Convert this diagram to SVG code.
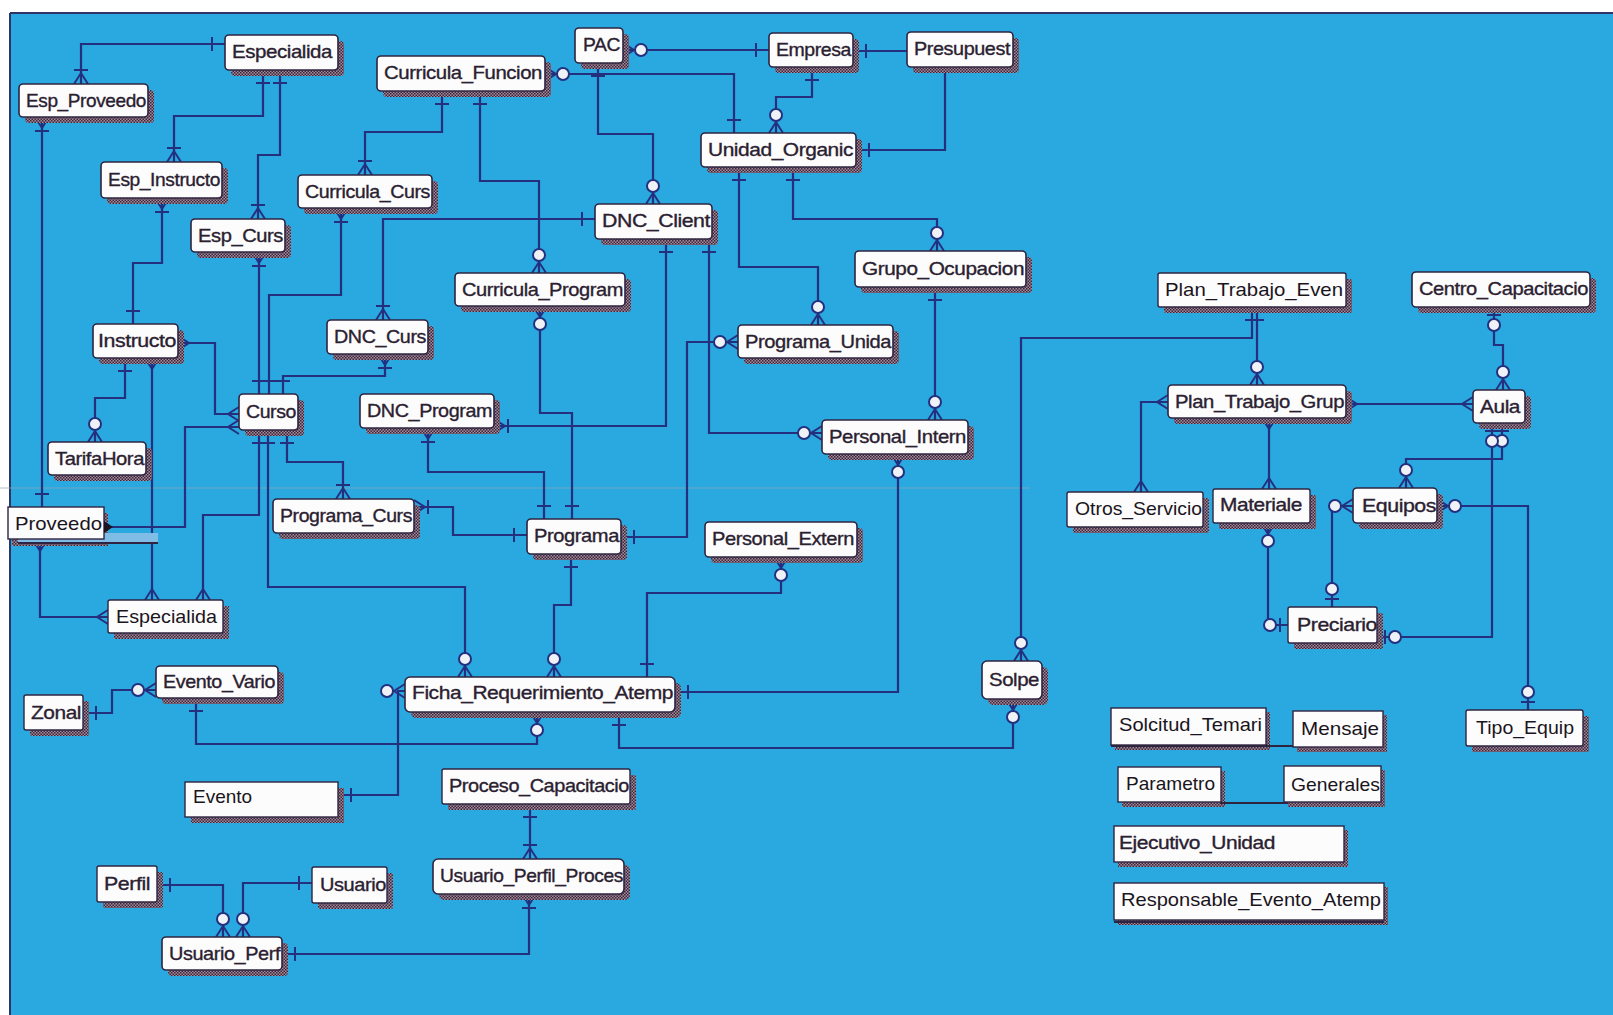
<svg xmlns="http://www.w3.org/2000/svg" width="1613" height="1015" viewBox="0 0 1613 1015">
  <style>
    .sh{fill:url(#hatch)}
    .bx{fill:#fcfcfc;stroke:#2f2440;stroke-width:1.6}
    .sq{fill:#fcfcfc;stroke:#2f2440;stroke-width:1.4}
    text{font-family:"Liberation Sans",Arial,sans-serif;font-size:19px;fill:#2a2030;stroke:#2a2030;stroke-width:0.35px;letter-spacing:-0.4px}
    text.clean{fill:#1a1420;stroke:none;letter-spacing:0}
    .cn{fill:none;stroke:#24307e;stroke-width:2.2}
    .mk{fill:none;stroke:#24307e;stroke-width:2}
    .mc{fill:#eef2f6;stroke:#24307e;stroke-width:2}
    .deco{fill:none;stroke:#2f2440;stroke-width:2}
  </style>
  <defs>
    <pattern id="hatch" width="3" height="3" patternUnits="userSpaceOnUse">
      <rect width="3" height="3" fill="#a08c9c"/>
      <rect width="1.5" height="1.5" fill="#3d2438"/>
      <rect x="1.5" y="1.5" width="1.5" height="1.5" fill="#3d2438"/>
    </pattern>
    <!-- relationship ends: +x points into the entity, origin sits on its border -->
    <marker id="one" viewBox="-30 -15 32 30" markerWidth="32" markerHeight="30" refX="0" refY="0" markerUnits="userSpaceOnUse" orient="auto-start-reverse">
      <path class="mk" d="M-13,-7V7"/>
    </marker>
    <marker id="many" viewBox="-30 -15 32 30" markerWidth="32" markerHeight="30" refX="0" refY="0" markerUnits="userSpaceOnUse" orient="auto-start-reverse">
      <path class="mk" d="M0,-7L-11,0L0,7"/>
    </marker>
    <marker id="omany" viewBox="-30 -15 32 30" markerWidth="32" markerHeight="30" refX="0" refY="0" markerUnits="userSpaceOnUse" orient="auto-start-reverse">
      <path class="mk" d="M0,-7L-11,0L0,7M-14,-7V7"/>
    </marker>
    <marker id="zmany" viewBox="-30 -15 32 30" markerWidth="32" markerHeight="30" refX="0" refY="0" markerUnits="userSpaceOnUse" orient="auto-start-reverse">
      <path class="mk" d="M0,-7L-11,0L0,7"/>
      <circle class="mc" cx="-18" cy="0" r="6"/>
    </marker>
    <marker id="zone" viewBox="-30 -15 32 30" markerWidth="32" markerHeight="30" refX="0" refY="0" markerUnits="userSpaceOnUse" orient="auto-start-reverse">
      <path class="mk" d="M-8,-7V7"/>
      <circle class="mc" cx="-18" cy="0" r="6"/>
    </marker>
  </defs>

  <!-- sheet -->
  <rect x="0" y="0" width="1613" height="1015" fill="#ffffff"/>
  <rect x="10" y="13" width="1603" height="1002" fill="#2aa8e0"/>
  <path d="M10,13H1613M10,13V1015" stroke="#2c3566" stroke-width="2" fill="none"/>
  <path d="M0,488H1030" stroke="#8fa6b6" stroke-width="1" opacity="0.7"/>

  <!-- relationships -->
  <g id="connectors">
    <path class="cn" d="M225,44H81V84" marker-start="url(#one)" marker-end="url(#omany)"/>
    <path class="cn" d="M263,70V116H174V162" marker-start="url(#one)" marker-end="url(#omany)"/>
    <path class="cn" d="M280,70V155H258V219" marker-start="url(#one)" marker-end="url(#omany)"/>
    <path class="cn" d="M42,117V507" marker-start="url(#omany)" marker-end="url(#one)"/>
    <path class="cn" d="M162,198V263H133V324" marker-start="url(#omany)" marker-end="url(#one)"/>
    <path class="cn" d="M259,252V394" marker-start="url(#omany)" marker-end="url(#one)"/>
    <path class="cn" d="M341,208V295H269V394" marker-start="url(#omany)" marker-end="url(#one)"/>
    <path class="cn" d="M385,354V376H283V394" marker-start="url(#omany)" marker-end="url(#one)"/>
    <path class="cn" d="M442,91V132H365V175" marker-start="url(#one)" marker-end="url(#omany)"/>
    <path class="cn" d="M480,91V181H539V273" marker-start="url(#one)" marker-end="url(#zmany)"/>
    <path class="cn" d="M545,74H734V133" marker-start="url(#zmany)" marker-end="url(#one)"/>
    <path class="cn" d="M623,50H769" marker-start="url(#zmany)" marker-end="url(#one)"/>
    <path class="cn" d="M598,63V134H653V204" marker-start="url(#one)" marker-end="url(#zmany)"/>
    <path class="cn" d="M812,67V97H776V133" marker-start="url(#one)" marker-end="url(#zmany)"/>
    <path class="cn" d="M907,51H853" marker-end="url(#one)"/>
    <path class="cn" d="M945,67V150H856" marker-end="url(#one)"/>
    <path class="cn" d="M739,167V267H818V325" marker-start="url(#one)" marker-end="url(#zmany)"/>
    <path class="cn" d="M793,167V219H937V251" marker-start="url(#one)" marker-end="url(#zmany)"/>
    <path class="cn" d="M595,219H383V320" marker-start="url(#one)" marker-end="url(#omany)"/>
    <path class="cn" d="M666,239V426H494" marker-start="url(#one)" marker-end="url(#omany)"/>
    <path class="cn" d="M709,239V433H822" marker-start="url(#one)" marker-end="url(#zmany)"/>
    <path class="cn" d="M935,287V420" marker-start="url(#one)" marker-end="url(#zmany)"/>
    <path class="cn" d="M738,342H687V537H621" marker-start="url(#zmany)" marker-end="url(#one)"/>
    <path class="cn" d="M540,306V413H572V519" marker-start="url(#zmany)" marker-end="url(#one)"/>
    <path class="cn" d="M428,428V472H544V519" marker-start="url(#omany)" marker-end="url(#one)"/>
    <path class="cn" d="M414,507H453V535H527" marker-start="url(#omany)" marker-end="url(#one)"/>
    <path class="cn" d="M287,430V462H343V499" marker-start="url(#one)" marker-end="url(#omany)"/>
    <path class="cn" d="M268,430V587H465V677" marker-start="url(#one)" marker-end="url(#zmany)"/>
    <path class="cn" d="M178,343H215V414H239" marker-start="url(#many)" marker-end="url(#many)"/>
    <path class="cn" d="M239,427H185V527H104" marker-start="url(#many)"/>
    <path class="cn" d="M152,358V600" marker-start="url(#many)" marker-end="url(#many)"/>
    <path class="cn" d="M259,430V515H203V600" marker-start="url(#one)" marker-end="url(#many)"/>
    <path class="cn" d="M405,691H398V795H338" marker-start="url(#zmany)" marker-end="url(#one)"/>
    <path class="cn" d="M196,698V744H537V712" marker-start="url(#one)" marker-end="url(#zmany)"/>
    <path class="cn" d="M83,713H112V690H156" marker-start="url(#one)" marker-end="url(#zmany)"/>
    <path class="cn" d="M675,692H898V454" marker-start="url(#one)" marker-end="url(#zmany)"/>
    <path class="cn" d="M619,712V748H1013V699" marker-start="url(#one)" marker-end="url(#zmany)"/>
    <path class="cn" d="M781,557V593H647V677" marker-start="url(#zmany)" marker-end="url(#one)"/>
    <path class="cn" d="M571,554V605H554V677" marker-start="url(#one)" marker-end="url(#zmany)"/>
    <path class="cn" d="M1021,661V338H1252V307" marker-start="url(#zmany)" marker-end="url(#one)"/>
    <path class="cn" d="M1257,307V385" marker-start="url(#one)" marker-end="url(#zmany)"/>
    <path class="cn" d="M1168,402H1141V492" marker-start="url(#many)" marker-end="url(#many)"/>
    <path class="cn" d="M1346,404H1473" marker-start="url(#many)" marker-end="url(#many)"/>
    <path class="cn" d="M1269,418V489" marker-start="url(#many)" marker-end="url(#many)"/>
    <path class="cn" d="M1494,307V345H1503V390" marker-start="url(#zone)" marker-end="url(#zmany)"/>
    <path class="cn" d="M1502,423V459H1406V488" marker-start="url(#zone)" marker-end="url(#zmany)"/>
    <path class="cn" d="M1492,423V637H1377" marker-start="url(#zone)" marker-end="url(#zone)"/>
    <path class="cn" d="M1353,506H1332V607" marker-start="url(#zmany)" marker-end="url(#zone)"/>
    <path class="cn" d="M1268,523V625H1288" marker-start="url(#zmany)" marker-end="url(#zone)"/>
    <path class="cn" d="M1437,506H1528V710" marker-start="url(#zmany)" marker-end="url(#zone)"/>
    <path class="cn" d="M157,885H223V937" marker-start="url(#one)" marker-end="url(#zmany)"/>
    <path class="cn" d="M312,883H243V937" marker-start="url(#one)" marker-end="url(#zmany)"/>
    <path class="cn" d="M282,954H529V894" marker-start="url(#one)" marker-end="url(#omany)"/>
    <path class="cn" d="M530,804V859" marker-start="url(#one)" marker-end="url(#omany)"/>
    <path class="cn" d="M125,358V398H95V442" marker-start="url(#one)" marker-end="url(#zmany)"/>
    <path class="cn" d="M40,540V617H108" marker-start="url(#many)" marker-end="url(#many)"/>
  </g>

  <!-- entities -->
  <g id="especialida-top"><rect class="sh" x="231" y="41" width="113" height="35" rx="4"/><rect class="bx" x="225" y="35" width="113" height="35" rx="4"/><text x="232" y="58" textLength="100" lengthAdjust="spacingAndGlyphs">Especialida</text></g>
  <g id="esp-proveed"><rect class="sh" x="25" y="90" width="129" height="33" rx="4"/><rect class="bx" x="19" y="84" width="129" height="33" rx="4"/><text x="26" y="107" textLength="120" lengthAdjust="spacingAndGlyphs">Esp_Proveedo</text></g>
  <g id="esp-instructo"><rect class="sh" x="107" y="168" width="121" height="36" rx="4"/><rect class="bx" x="101" y="162" width="121" height="36" rx="4"/><text x="108" y="186" textLength="112" lengthAdjust="spacingAndGlyphs">Esp_Instructo</text></g>
  <g id="esp-curs"><rect class="sh" x="197" y="225" width="94" height="33" rx="4"/><rect class="bx" x="191" y="219" width="94" height="33" rx="4"/><text x="198" y="242" textLength="85" lengthAdjust="spacingAndGlyphs">Esp_Curs</text></g>
  <g id="curricula-curs"><rect class="sh" x="304" y="181" width="134" height="33" rx="4"/><rect class="bx" x="298" y="175" width="134" height="33" rx="4"/><text x="305" y="198" textLength="125" lengthAdjust="spacingAndGlyphs">Curricula_Curs</text></g>
  <g id="curricula-funcion"><rect class="sh" x="383" y="62" width="168" height="35" rx="4"/><rect class="bx" x="377" y="56" width="168" height="35" rx="4"/><text x="384" y="79" textLength="158" lengthAdjust="spacingAndGlyphs">Curricula_Funcion</text></g>
  <g id="pac"><rect class="sh" x="581" y="34" width="48" height="35" rx="4"/><rect class="bx" x="575" y="28" width="48" height="35" rx="4"/><text x="583" y="51" textLength="37" lengthAdjust="spacingAndGlyphs">PAC</text></g>
  <g id="empresa"><rect class="sh" x="775" y="39" width="84" height="34" rx="4"/><rect class="bx" x="769" y="33" width="84" height="34" rx="4"/><text x="776" y="56" textLength="75" lengthAdjust="spacingAndGlyphs">Empresa</text></g>
  <g id="presupuest"><rect class="sh" x="913" y="38" width="106" height="35" rx="4"/><rect class="bx" x="907" y="32" width="106" height="35" rx="4"/><text x="914" y="55" textLength="96" lengthAdjust="spacingAndGlyphs">Presupuest</text></g>
  <g id="unidad-organic"><rect class="sh" x="707" y="139" width="155" height="34" rx="4"/><rect class="bx" x="701" y="133" width="155" height="34" rx="4"/><text x="708" y="156" textLength="145" lengthAdjust="spacingAndGlyphs">Unidad_Organic</text></g>
  <g id="dnc-client"><rect class="sh" x="601" y="210" width="117" height="35" rx="4"/><rect class="bx" x="595" y="204" width="117" height="35" rx="4"/><text x="602" y="227" textLength="108" lengthAdjust="spacingAndGlyphs">DNC_Client</text></g>
  <g id="curricula-program"><rect class="sh" x="461" y="279" width="170" height="33" rx="4"/><rect class="bx" x="455" y="273" width="170" height="33" rx="4"/><text x="462" y="296" textLength="161" lengthAdjust="spacingAndGlyphs">Curricula_Program</text></g>
  <g id="grupo-ocupacion"><rect class="sh" x="861" y="257" width="171" height="36" rx="4"/><rect class="bx" x="855" y="251" width="171" height="36" rx="4"/><text x="862" y="275" textLength="162" lengthAdjust="spacingAndGlyphs">Grupo_Ocupacion</text></g>
  <g id="programa-unida"><rect class="sh" x="744" y="331" width="155" height="33" rx="4"/><rect class="bx" x="738" y="325" width="155" height="33" rx="4"/><text x="745" y="348" textLength="146" lengthAdjust="spacingAndGlyphs">Programa_Unida</text></g>
  <g id="personal-intern"><rect class="sh" x="828" y="426" width="146" height="34" rx="4"/><rect class="bx" x="822" y="420" width="146" height="34" rx="4"/><text x="829" y="443" textLength="137" lengthAdjust="spacingAndGlyphs">Personal_Intern</text></g>
  <g id="dnc-curs"><rect class="sh" x="333" y="326" width="101" height="34" rx="4"/><rect class="bx" x="327" y="320" width="101" height="34" rx="4"/><text x="334" y="343" textLength="92" lengthAdjust="spacingAndGlyphs">DNC_Curs</text></g>
  <g id="dnc-program"><rect class="sh" x="366" y="400" width="134" height="34" rx="4"/><rect class="bx" x="360" y="394" width="134" height="34" rx="4"/><text x="367" y="417" textLength="125" lengthAdjust="spacingAndGlyphs">DNC_Program</text></g>
  <g id="curso"><rect class="sh" x="245" y="400" width="59" height="36" rx="4"/><rect class="bx" x="239" y="394" width="59" height="36" rx="4"/><text x="246" y="418" textLength="50" lengthAdjust="spacingAndGlyphs">Curso</text></g>
  <g id="instructo"><rect class="sh" x="99" y="330" width="85" height="34" rx="4"/><rect class="bx" x="93" y="324" width="85" height="34" rx="4"/><text x="98" y="347" textLength="78" lengthAdjust="spacingAndGlyphs">Instructo</text></g>
  <g id="tarifahora"><rect class="sh" x="54" y="448" width="98" height="33" rx="4"/><rect class="bx" x="48" y="442" width="98" height="33" rx="4"/><text x="55" y="465" textLength="89" lengthAdjust="spacingAndGlyphs">TarifaHora</text></g>
  <g id="proveedo"><rect class="sh" x="12" y="513" width="96" height="33"/><rect x="18" y="533" width="140" height="10" fill="#7fbce6"/><rect class="sq" x="8" y="507" width="96" height="32" stroke-width="0.8"/><path d="M18,543H158" class="deco"/><polygon points="104,521 113,527 104,533" fill="#1a1420"/><text class="clean" x="15" y="530" textLength="87" lengthAdjust="spacingAndGlyphs">Proveedo</text></g>
  <g id="especialida-bot"><rect class="sh" x="114" y="606" width="115" height="33"/><rect class="sq" x="108" y="600" width="115" height="33" rx="2"/><text class="clean" x="116" y="623" textLength="101" lengthAdjust="spacingAndGlyphs">Especialida</text></g>
  <g id="programa-curs"><rect class="sh" x="279" y="505" width="141" height="34" rx="4"/><rect class="bx" x="273" y="499" width="141" height="34" rx="4"/><text x="280" y="522" textLength="132" lengthAdjust="spacingAndGlyphs">Programa_Curs</text></g>
  <g id="programa"><rect class="sh" x="533" y="525" width="94" height="35" rx="4"/><rect class="bx" x="527" y="519" width="94" height="35" rx="4"/><text x="534" y="542" textLength="85" lengthAdjust="spacingAndGlyphs">Programa</text></g>
  <g id="personal-extern"><rect class="sh" x="711" y="528" width="152" height="35" rx="4"/><rect class="bx" x="705" y="522" width="152" height="35" rx="4"/><text x="712" y="545" textLength="142" lengthAdjust="spacingAndGlyphs">Personal_Extern</text></g>
  <g id="plan-trabajo-even"><rect class="sh" x="1164" y="279" width="188" height="34" rx="2"/><rect class="sq" x="1158" y="273" width="188" height="34" rx="2"/><text class="clean" x="1165" y="296" textLength="178" lengthAdjust="spacingAndGlyphs">Plan_Trabajo_Even</text></g>
  <g id="centro-capacitacio"><rect class="sh" x="1418" y="278" width="178" height="35" rx="4"/><rect class="bx" x="1412" y="272" width="178" height="35" rx="4"/><text x="1419" y="295" textLength="169" lengthAdjust="spacingAndGlyphs">Centro_Capacitacio</text></g>
  <g id="plan-trabajo-grup"><rect class="sh" x="1174" y="391" width="178" height="33" rx="4"/><rect class="bx" x="1168" y="385" width="178" height="33" rx="4"/><text x="1175" y="408" textLength="169" lengthAdjust="spacingAndGlyphs">Plan_Trabajo_Grup</text></g>
  <g id="aula"><rect class="sh" x="1479" y="396" width="52" height="33" rx="4"/><rect class="bx" x="1473" y="390" width="52" height="33" rx="4"/><text x="1480" y="413" textLength="40" lengthAdjust="spacingAndGlyphs">Aula</text></g>
  <g id="otros-servicio"><rect class="sh" x="1073" y="498" width="136" height="35" rx="2"/><rect class="sq" x="1067" y="492" width="136" height="35" rx="2"/><text class="clean" x="1075" y="515" textLength="127" lengthAdjust="spacingAndGlyphs">Otros_Servicio</text></g>
  <g id="materiale"><rect class="sh" x="1219" y="495" width="97" height="34" rx="2"/><rect class="sq" x="1213" y="489" width="97" height="34" rx="2"/><text x="1220" y="511" textLength="82" lengthAdjust="spacingAndGlyphs">Materiale</text></g>
  <g id="equipos"><rect class="sh" x="1359" y="494" width="84" height="35" rx="4"/><rect class="bx" x="1353" y="488" width="84" height="35" rx="4"/><text x="1362" y="512" textLength="74" lengthAdjust="spacingAndGlyphs">Equipos</text></g>
  <g id="preciario"><rect class="sh" x="1294" y="613" width="89" height="36" rx="2"/><rect class="sq" x="1288" y="607" width="89" height="36" rx="2"/><text x="1297" y="631" textLength="80" lengthAdjust="spacingAndGlyphs">Preciario</text></g>
  <g id="tipo-equip"><rect class="sh" x="1472" y="716" width="117" height="36" rx="2"/><rect class="sq" x="1466" y="710" width="117" height="36" rx="2"/><text class="clean" x="1476" y="734" textLength="98" lengthAdjust="spacingAndGlyphs">Tipo_Equip</text></g>
  <g id="solpe"><rect class="sh" x="988" y="667" width="60" height="38" rx="5"/><rect class="bx" x="982" y="661" width="60" height="38" rx="5"/><text x="989" y="686" textLength="50" lengthAdjust="spacingAndGlyphs">Solpe</text></g>
  <g id="solcitud-temari"><rect class="sh" x="1115" y="712" width="155" height="38"/><rect class="sq" x="1111" y="708" width="155" height="37"/><path class="deco" d="M1111,746H1384"/><text class="clean" x="1119" y="731" textLength="143" lengthAdjust="spacingAndGlyphs">Solcitud_Temari</text></g>
  <g id="mensaje"><rect class="sh" x="1297" y="715" width="90" height="37"/><rect class="sq" x="1293" y="711" width="90" height="36"/><text class="clean" x="1301" y="735" textLength="78" lengthAdjust="spacingAndGlyphs">Mensaje</text></g>
  <g id="parametro"><rect class="sh" x="1122" y="771" width="103" height="36"/><rect class="sq" x="1118" y="767" width="103" height="35"/><path class="deco" d="M1220,803H1382"/><text class="clean" x="1126" y="790" textLength="89" lengthAdjust="spacingAndGlyphs">Parametro</text></g>
  <g id="generales"><rect class="sh" x="1288" y="770" width="97" height="37"/><rect class="sq" x="1284" y="766" width="97" height="36"/><text class="clean" x="1291" y="791" textLength="89" lengthAdjust="spacingAndGlyphs">Generales</text></g>
  <g id="ejecutivo-unidad"><rect class="sh" x="1118" y="830" width="230" height="37"/><rect class="sq" x="1114" y="826" width="230" height="36"/><text x="1119" y="849" textLength="156" lengthAdjust="spacingAndGlyphs" fill="#4a3c55" stroke="#4a3c55">Ejecutivo_Unidad</text></g>
  <g id="responsable-evento-atemp"><rect class="sh" x="1118" y="887" width="270" height="38"/><rect class="sq" x="1114" y="883" width="270" height="37"/><path class="deco" d="M1114,922H1384"/><text class="clean" x="1121" y="906" textLength="260" lengthAdjust="spacingAndGlyphs">Responsable_Evento_Atemp</text></g>
  <g id="evento-vario"><rect class="sh" x="162" y="672" width="122" height="32" rx="4"/><rect class="bx" x="156" y="666" width="122" height="32" rx="4"/><text x="163" y="688" textLength="112" lengthAdjust="spacingAndGlyphs">Evento_Vario</text></g>
  <g id="zonal"><rect class="sh" x="30" y="701" width="59" height="35" rx="2"/><rect class="sq" x="24" y="695" width="59" height="35" rx="2"/><text x="31" y="719" textLength="50" lengthAdjust="spacingAndGlyphs">Zonal</text></g>
  <g id="evento"><rect class="sh" x="191" y="788" width="153" height="35"/><rect class="sq" x="185" y="782" width="153" height="35"/><text class="clean" x="193" y="803">Evento</text></g>
  <g id="perfil"><rect class="sh" x="103" y="872" width="60" height="36" rx="2"/><rect class="sq" x="97" y="866" width="60" height="36" rx="2"/><text x="104" y="890" textLength="46" lengthAdjust="spacingAndGlyphs">Perfil</text></g>
  <g id="usuario"><rect class="sh" x="318" y="873" width="75" height="36" rx="2"/><rect class="sq" x="312" y="867" width="75" height="36" rx="2"/><text x="320" y="891" textLength="66" lengthAdjust="spacingAndGlyphs">Usuario</text></g>
  <g id="usuario-perf"><rect class="sh" x="168" y="943" width="120" height="33" rx="4"/><rect class="bx" x="162" y="937" width="120" height="33" rx="4"/><text x="169" y="960" textLength="111" lengthAdjust="spacingAndGlyphs">Usuario_Perf</text></g>
  <g id="ficha-requerimiento-atemp"><rect class="sh" x="411" y="683" width="270" height="35" rx="5"/><rect class="bx" x="405" y="677" width="270" height="35" rx="5"/><text x="412" y="699" textLength="261" lengthAdjust="spacingAndGlyphs">Ficha_Requerimiento_Atemp</text></g>
  <g id="proceso-capacitacio"><rect class="sh" x="448" y="775" width="188" height="35" rx="2"/><rect class="sq" x="442" y="769" width="188" height="35" rx="2"/><text x="449" y="792" textLength="180" lengthAdjust="spacingAndGlyphs">Proceso_Capacitacio</text></g>
  <g id="usuario-perfil-proces"><rect class="sh" x="439" y="865" width="191" height="35" rx="5"/><rect class="bx" x="433" y="859" width="191" height="35" rx="5"/><text x="440" y="882" textLength="183" lengthAdjust="spacingAndGlyphs">Usuario_Perfil_Proces</text></g>
</svg>
